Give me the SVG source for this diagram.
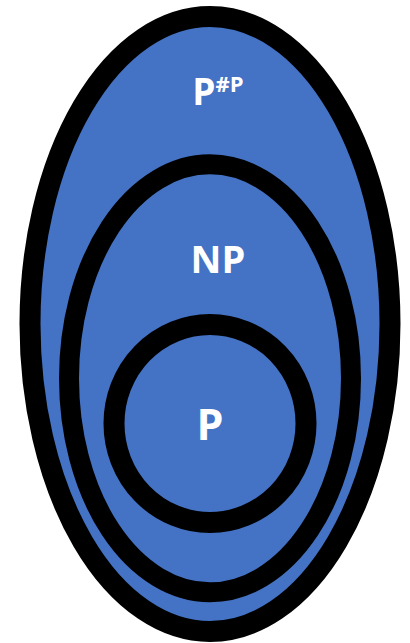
<svg xmlns="http://www.w3.org/2000/svg" width="410" height="643" viewBox="0 0 410 643">
<style>
.set{fill:#4472C4;stroke:#000;}
.lbl{fill:#fff;font-family:"Open Sans","Noto Sans",sans-serif;font-weight:bold;text-anchor:middle;}
</style>
<rect width="410" height="643" fill="#fff"/>
<g id="sharpP">
<ellipse class="set" cx="210" cy="324" rx="180" ry="307.5" stroke-width="21"/>
<text class="lbl" x="218" y="105" font-size="37">P<tspan font-size="22" dy="-13">#P</tspan></text>
</g>
<g id="NP">
<ellipse class="set" cx="210" cy="378.3" rx="141" ry="214" stroke-width="20"/>
<text class="lbl" x="218" y="273" font-size="38">NP</text>
</g>
<g id="P">
<ellipse class="set" cx="210" cy="423.5" rx="96" ry="99" stroke-width="21"/>
<text class="lbl" x="210" y="440" font-size="43">P</text>
</g>
<g id="connectors"/>
</svg>
